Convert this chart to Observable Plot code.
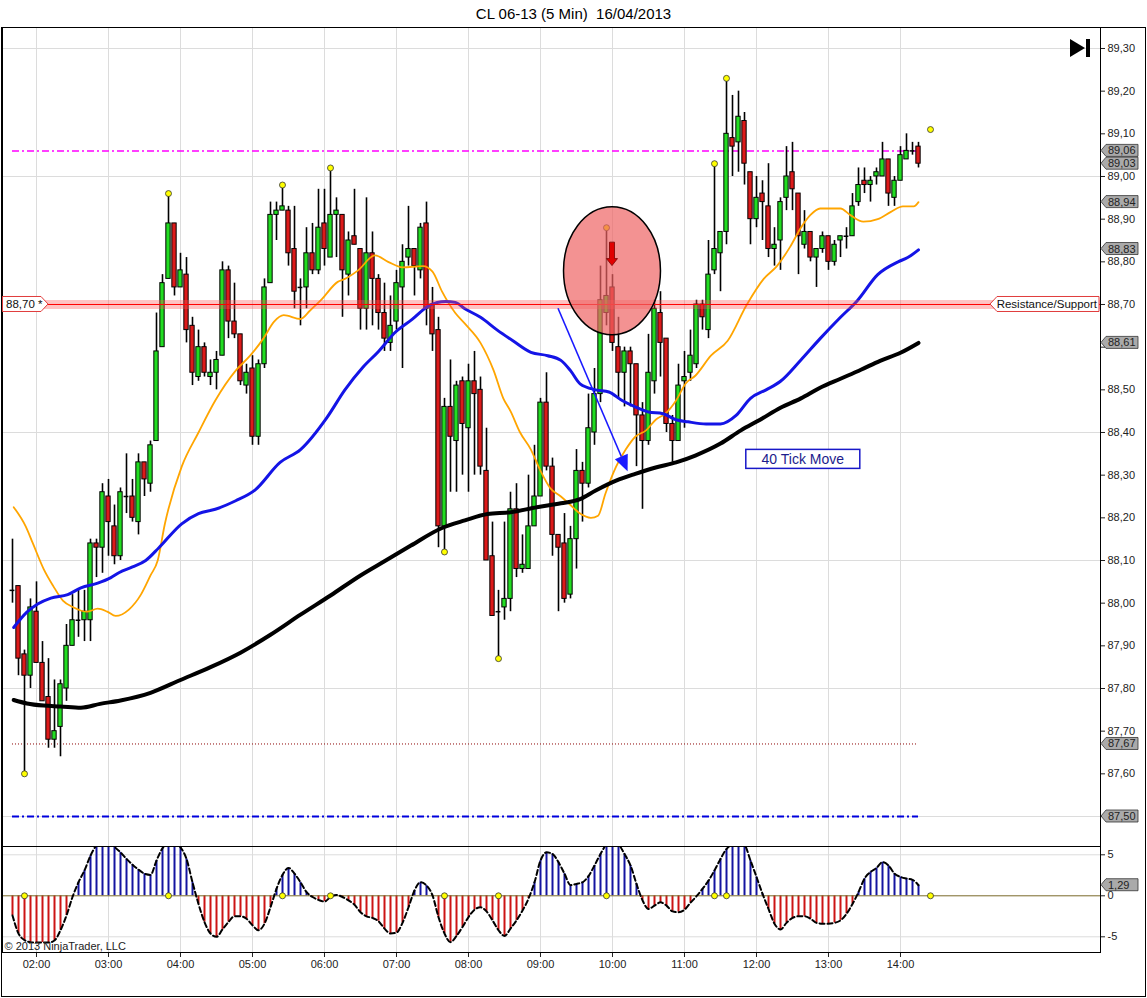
<!DOCTYPE html>
<html><head><meta charset="utf-8">
<script src="https://cdn.jsdelivr.net/npm/d3@7"></script>
<script src="https://cdn.jsdelivr.net/npm/@observablehq/plot@0.6"></script>
<style>
html,body{margin:0;padding:0;background:#fff;}
#wrap{position:relative;width:1147px;height:998px;font-family:"Liberation Sans",Arial,sans-serif;overflow:hidden;background:#fff;}
#title{position:absolute;left:0;top:0;width:1147px;height:27px;line-height:27px;text-align:center;font-size:15px;white-space:pre;color:#000;}
#main{position:absolute;left:0;top:27px;}
#osc{position:absolute;left:0;top:846px;}
#frame{position:absolute;left:0;top:0;pointer-events:none;}
</style></head><body>
<div id="wrap"><div id="title">CL 06-13 (5 Min)  16/04/2013</div><div id="main"></div><div id="osc"></div></div>
<script>
// ---------------- DATA ----------------
const firstBar = "01:40";
const barStep = 5; // minutes
const opens = [88.03,88.04,87.88,87.83,87.98,87.86,87.78,87.68,87.71,87.80,
87.90,87.96,87.96,87.96,88.14,88.13,88.25,88.18,88.11,88.25,
88.25,88.19,88.33,88.28,88.38,88.60,88.76,88.89,88.74,88.77,
88.65,88.53,88.60,88.53,88.54,88.58,88.78,88.66,88.63,88.51,
88.55,88.39,88.56,88.75,88.91,88.92,88.92,88.83,88.74,88.74,
88.82,88.78,88.89,88.81,88.91,88.91,88.77,88.86,88.83,88.69,
88.82,88.76,88.68,88.61,88.66,88.74,88.81,88.83,88.78,88.89,
88.70,88.64,88.18,88.46,88.38,88.52,88.41,88.52,88.50,88.31,
88.11,87.98,87.99,88.01,88.22,88.08,88.08,88.18,88.25,88.47,
88.32,88.16,88.14,88.02,88.15,88.31,88.28,88.40,88.49,88.68,
88.74,88.60,88.54,88.59,88.56,88.44,88.38,88.52,88.68,88.62,
88.42,88.38,88.52,88.54,88.56,88.70,88.64,88.78,88.82,88.87,
89.09,89.08,89.13,89.01,88.90,88.96,88.93,88.83,88.85,88.95,
89.01,88.96,88.84,88.87,88.81,88.83,88.86,88.80,88.85,88.86,
88.86,88.94,88.99,88.98,89.00,89.00,89.04,88.95,88.99,89.04,
89.06,89.07];
const highs = [88.15,88.04,87.89,88.01,88.05,87.91,87.87,87.82,87.82,87.95,
88.02,88.03,88.03,88.15,88.15,88.28,88.29,88.23,88.27,88.35,
88.29,88.35,88.33,88.38,88.68,88.77,88.96,88.89,88.82,88.81,
88.67,88.64,88.61,88.57,88.59,88.80,88.79,88.75,88.63,88.56,
88.58,88.57,88.76,88.94,88.94,88.98,88.93,88.93,88.76,88.88,
88.89,88.97,88.97,89.02,88.95,88.91,88.87,88.97,88.83,88.95,
88.87,88.77,88.75,88.72,88.78,88.84,88.93,88.83,88.89,88.94,
88.74,88.67,88.48,88.57,88.52,88.53,88.56,88.59,88.53,88.41,
88.19,88.03,88.19,88.26,88.28,88.16,88.30,88.37,88.48,88.54,
88.34,88.16,88.21,88.18,88.36,88.33,88.49,88.55,88.79,88.88,
88.77,88.67,88.60,88.60,88.56,88.47,88.63,88.71,88.73,88.62,
88.44,88.56,88.59,88.64,88.71,88.71,88.85,89.03,88.87,89.23,
89.19,89.20,89.15,89.01,89.00,88.99,89.03,88.88,88.95,89.07,
89.08,88.96,88.92,88.87,88.83,88.87,88.86,88.85,88.86,88.88,
88.96,89.02,89.02,89.00,89.02,89.08,89.04,89.00,89.07,89.10,
89.08,89.08];
const lows = [88.00,87.83,87.60,87.80,87.86,87.77,87.66,87.66,87.64,87.77,
87.90,87.92,87.91,87.91,88.06,88.07,88.11,88.09,88.10,88.21,
88.19,88.16,88.25,88.26,88.38,88.60,88.76,88.72,88.74,88.61,
88.51,88.52,88.53,88.51,88.50,88.58,88.62,88.62,88.51,88.49,
88.37,88.37,88.55,88.75,88.85,88.92,88.79,88.69,88.65,88.69,
88.77,88.77,88.79,88.81,88.81,88.67,88.72,88.84,88.64,88.64,
88.65,88.64,88.59,88.59,88.64,88.55,88.79,88.72,88.76,88.65,
88.59,88.13,88.12,88.26,88.26,88.30,88.26,88.30,88.30,88.10,
87.97,87.87,87.96,87.98,88.06,88.07,88.08,88.18,88.25,88.31,
88.11,87.98,88.00,88.01,88.08,88.19,88.27,88.37,88.47,88.65,
88.59,88.48,88.46,88.46,88.32,88.22,88.37,88.49,88.53,88.40,
88.33,88.38,88.41,88.52,88.55,88.64,88.62,88.77,88.73,88.84,
89.00,89.01,88.98,88.84,88.88,88.85,88.81,88.79,88.78,88.92,
88.92,88.77,88.83,88.80,88.74,88.82,88.78,88.79,88.81,88.83,
88.86,88.93,88.96,88.94,88.98,89.00,88.93,88.93,88.99,89.04,
89.05,89.02];
const closes = [88.03,87.87,87.83,87.99,87.86,87.77,87.68,87.70,87.81,87.90,
87.96,87.96,87.98,88.14,88.13,88.26,88.19,88.11,88.26,88.25,
88.20,88.33,88.29,88.37,88.59,88.75,88.89,88.74,88.78,88.64,
88.54,88.60,88.54,88.54,88.57,88.78,88.66,88.63,88.52,88.54,
88.39,88.56,88.74,88.91,88.92,88.93,88.82,88.73,88.74,88.82,
88.78,88.88,88.83,88.91,88.92,88.78,88.85,88.84,88.69,88.82,
88.76,88.68,88.62,88.65,88.75,88.80,88.83,88.79,88.88,88.69,
88.63,88.18,88.46,88.39,88.51,88.42,88.52,88.49,88.32,88.10,
87.97,87.98,88.01,88.22,88.08,88.09,88.18,88.25,88.47,88.32,
88.16,88.13,88.01,88.15,88.31,88.28,88.41,88.49,88.71,88.72,
88.61,88.54,88.59,88.56,88.44,88.38,88.54,88.69,88.61,88.42,
88.38,88.51,88.53,88.58,88.70,88.67,88.77,88.83,88.87,89.10,
89.07,89.14,89.03,88.90,88.95,88.94,88.83,88.84,88.94,89.00,
88.97,88.86,88.87,88.81,88.83,88.86,88.80,88.84,88.86,88.86,
88.93,88.98,88.98,88.99,89.01,89.04,88.96,88.99,89.05,89.06,
89.06,89.03];
const oscValues = [-2.4,-4.6,-5.4,-5.65,-5.7,-5.7,-5.7,-5.45,-4.2,-2.4,
-0.15,1.65,3.1,4.9,6.2,7.0,7.2,6.0,5.3,4.5,
3.8,3.2,2.7,2.55,4.3,5.8,6.5,6.5,5.9,4.5,
1.65,-1.0,-3.2,-4.6,-5.0,-4.1,-3.2,-2.5,-2.5,-2.8,
-3.6,-4.2,-3.4,-1.4,0.85,2.55,3.4,2.7,1.65,0.45,
-0.15,-0.5,-0.7,-0.15,0.1,-0.15,-0.55,-1.1,-2.0,-2.5,
-2.7,-3.1,-4.0,-4.6,-4.5,-3.3,-1.4,0.65,1.65,1.25,
0.05,-2.6,-4.6,-5.65,-4.9,-3.8,-2.6,-1.7,-1.4,-1.9,
-3.0,-4.2,-4.9,-4.0,-3.0,-1.8,-0.35,1.65,4.3,5.3,
5.1,4.1,2.7,1.3,1.45,1.65,2.4,3.7,5.1,6.3,
6.8,6.3,5.1,3.7,1.45,-0.55,-1.6,-1.2,-0.8,-1.2,
-1.9,-2.0,-1.7,-0.85,-0.05,0.85,1.85,3.1,4.5,5.7,
6.3,6.5,6.2,4.3,2.3,0.25,-1.6,-3.4,-4.1,-3.3,
-2.7,-2.5,-2.5,-2.8,-3.3,-3.4,-3.4,-3.3,-3.0,-2.2,
-1.0,0.45,2.1,2.9,3.4,4.1,3.7,2.7,2.3,2.1,
1.95,1.29];
const orangeTimes = ["01:41","01:51","01:57","02:06","02:14","02:22","02:31","02:42","02:51","02:59","03:06","03:17","03:27","03:35","03:41","03:47","04:01","04:15","04:29","04:46","04:58","05:09","05:18","05:26","05:40","05:48","05:57","06:11","06:17","06:28","06:42","06:53","07:05","07:22","07:30","07:38","07:49","07:57","08:10","08:21","08:29","08:35","08:43","08:52","09:00","09:08","09:17","09:25","09:33","09:42","09:48","09:54","10:03","10:11","10:19","10:28","10:36","10:44","10:53","11:01","11:09","11:22","11:36","11:52","12:06","12:17","12:28","12:37","12:45","12:53","13:10","13:18","13:29","13:41","13:52","14:02","14:11","14:15"];
const orangeValues = [88.225,88.18,88.14,88.08,88.04,88.006,87.99,87.98,87.987,87.98,87.97,87.985,88.02,88.065,88.10,88.186,88.32,88.40,88.475,88.545,88.58,88.62,88.66,88.675,88.666,88.686,88.71,88.753,88.76,88.78,88.815,88.80,88.787,88.79,88.777,88.73,88.68,88.655,88.61,88.545,88.48,88.45,88.40,88.36,88.31,88.27,88.25,88.23,88.21,88.20,88.205,88.256,88.32,88.36,88.39,88.405,88.43,88.444,88.475,88.515,88.533,88.58,88.615,88.70,88.76,88.79,88.835,88.88,88.91,88.925,88.925,88.91,88.894,88.90,88.917,88.93,88.93,88.94];
const blueTimes = ["01:41","01:52","02:01","02:12","02:26","02:37","02:51","03:02","03:09","03:20","03:31","03:42","04:01","04:15","04:29","04:46","05:02","05:23","05:40","06:02","06:17","06:32","06:45","06:59","07:13","07:27","07:41","07:49","07:57","08:10","08:24","08:37","08:52","09:06","09:17","09:25","09:33","09:46","09:57","10:08","10:19","10:30","10:42","10:53","11:03","11:18","11:30","11:43","11:55","12:08","12:20","12:37","12:53","13:10","13:24","13:41","13:58","14:06","14:15"];
const blueValues = [87.943,87.979,87.998,88.012,88.02,88.036,88.047,88.06,88.072,88.085,88.10,88.13,88.186,88.21,88.22,88.24,88.265,88.33,88.36,88.435,88.50,88.553,88.59,88.635,88.665,88.697,88.707,88.705,88.69,88.67,88.64,88.615,88.588,88.58,88.569,88.545,88.514,88.50,88.495,88.475,88.46,88.448,88.444,88.43,88.425,88.42,88.42,88.44,88.48,88.50,88.52,88.57,88.62,88.67,88.709,88.77,88.80,88.81,88.828];
const blackTimes = ["01:41","01:52","02:06","02:20","02:37","02:53","03:10","03:35","04:00","04:25","04:50","05:15","05:40","06:05","06:30","06:51","07:12","07:37","07:57","08:16","08:35","08:57","09:17","09:33","09:46","10:03","10:19","10:36","10:53","11:09","11:30","11:47","12:03","12:20","12:37","12:53","13:10","13:27","13:43","14:00","14:15"];
const blackValues = [87.773,87.765,87.76,87.758,87.755,87.764,87.772,87.79,87.82,87.85,87.884,87.926,87.973,88.018,88.065,88.10,88.135,88.175,88.194,88.209,88.213,88.225,88.234,88.244,88.264,88.287,88.303,88.318,88.33,88.346,88.374,88.405,88.43,88.458,88.48,88.505,88.526,88.547,88.568,88.587,88.61];
const swingTimes = ["01:50","03:50","05:25","06:05","07:40","08:25","09:55","11:25","11:35","14:25"];
const swingPrices = [87.60,88.96,88.98,89.02,88.12,87.87,88.88,89.03,89.23,89.11];
const hourTicks = ["02:00","03:00","04:00","05:00","06:00","07:00","08:00","09:00","10:00","11:00","12:00","13:00","14:00"];
const priceTicks = [87.5,87.6,87.7,87.8,87.9,88.0,88.1,88.2,88.3,88.4,88.5,88.6,88.7,88.8,88.9,89.0,89.1,89.2,89.3];
const priceGrid = [87.5,87.8,88.1,88.4,88.7,89.0,89.3];
const oscTicks = [-5,0,5];
const oscGrid = [-5,5];
const levelMagenta = 89.06, levelResistance = 88.70, levelDotted = 87.67, levelBlue = 87.50;
const priceMarkers = [89.06,89.03,88.94,88.83,88.61,87.67,87.50];
const oscMarker = 1.29;
const circleNote = {time: "10:00", price: 88.778, halfMinutes: 40.4, halfPrice: 0.15};
const sellArrow = {time: "10:00", from: 88.845, to: 88.79};
const moveArrow = {fromTime: "09:15", fromPrice: 88.69, toTime: "10:13", toPrice: 88.308};
const moveNote = {time: "12:39", price: 88.337, text: "40 Tick Move"};

// ---------------- HELPERS ----------------
const parseT = s => { const [h, m] = s.split(":").map(Number); return h * 60 + m; };
const fmtHour = m => String(Math.floor(m / 60)).padStart(2, "0") + ":00";
const comma = d => d.toFixed(2).replace(".", ",");
// tick labels hidden behind a price marker box (as in the reference)
const hiddenTick = d => priceMarkers.some(m => Math.abs(m - d) < 0.015);
const FONT = '"Liberation Sans", Arial, sans-serif';
const GREEN = "#22dd22", RED = "#dd1a1a", GRID = "#dcdcdc";

const t0 = parseT(firstBar);
const bars = opens.map((o, i) => ({t: t0 + i * barStep, open: o, high: highs[i], low: lows[i], close: closes[i]}));
const bodies = bars.filter(d => Math.abs(d.close - d.open) > 0.004);
const dojis = bars.filter(d => Math.abs(d.close - d.open) <= 0.004);
const pts = (ts, vs) => ts.map((s, i) => ({t: parseT(s), v: vs[i]}));
const orange = pts(orangeTimes, orangeValues);
const blue = pts(blueTimes, blueValues);
const black = pts(blackTimes, blackValues);
const swings = pts(swingTimes, swingPrices);
const osc = oscValues.map((v, i) => ({t: t0 + i * barStep, v}));
const hourT = hourTicks.map(parseT);
const tFirst = bars[0].t, tLast = bars[bars.length - 1].t;

const xDomain = [91.667, 1006.667];
const W = 1147;

// ---------------- MAIN PANEL ----------------
const main = Plot.plot({
  width: W, height: 819,
  marginLeft: 2, marginRight: 47, marginTop: 0, marginBottom: 0,
  x: {type: "linear", domain: xDomain, axis: null},
  y: {type: "linear", domain: [87.4297, 89.3492], axis: null},
  style: {fontFamily: FONT, fontSize: "11px", color: "#222", background: "white", overflow: "visible"},
  marks: [
    Plot.gridX(hourT, {stroke: GRID, strokeOpacity: 1}),
    Plot.gridY(priceGrid, {stroke: GRID, strokeOpacity: 1}),
    Plot.ruleY([levelMagenta], {x1: tFirst, x2: tLast, stroke: "#ff00ff", strokeWidth: 1.5, strokeDasharray: "7,3,2,3"}),
    Plot.ruleY([levelDotted], {x1: tFirst, x2: tLast, stroke: "#8b0000", strokeWidth: 1, strokeDasharray: "1,2"}),
    Plot.ruleY([levelBlue], {x1: tFirst, x2: tLast, stroke: "#0000dd", strokeWidth: 2, strokeDasharray: "7,3,2,3"}),
    Plot.ruleX(bars, {x: "t", y1: "low", y2: "high", stroke: "black", strokeWidth: 1.6}),
    Plot.rect(bodies, {x1: d => d.t - 1.8, x2: d => d.t + 1.8, y1: "open", y2: "close",
      fill: d => d.close > d.open ? GREEN : RED, stroke: "black", strokeWidth: 1}),
    Plot.ruleY(dojis, {x1: d => d.t - 2, x2: d => d.t + 2, y: "open", stroke: "black", strokeWidth: 1.5}),
    Plot.line(orange, {x: "t", y: "v", stroke: "#ffa500", strokeWidth: 1.8, curve: "monotone-x"}),
    Plot.line(blue, {x: "t", y: "v", stroke: "#1414e6", strokeWidth: 3, curve: "monotone-x"}),
    Plot.line(black, {x: "t", y: "v", stroke: "black", strokeWidth: 4, curve: "monotone-x"}),
    Plot.ruleY([levelResistance], {stroke: "#ff5050", strokeOpacity: 0.35, strokeWidth: 9}),
    Plot.ruleY([levelResistance], {stroke: "#ff0000", strokeWidth: 1}),
    Plot.dot(swings, {x: "t", y: "v", r: 3, fill: "#ffff00", stroke: "#333", strokeWidth: 0.8}),
    Plot.axisY(priceTicks, {anchor: "right", label: null, tickSize: 4, tickPadding: 3,
      tickFormat: d => hiddenTick(d) ? "" : comma(d), fontSize: 11, fill: "#222"}),
    Plot.frame({stroke: "black"})
  ]
});
document.getElementById("main").appendChild(main);

function lin(plot, name) { const s = plot.scale(name); return d3.scaleLinear().domain(s.domain).range(s.range); }
const X = lin(main, "x"), Y = lin(main, "y");
const svg = d3.select(main);
const right = X.range()[1];

// circle annotation
{
  const cx = X(parseT(circleNote.time)), cy = Y(circleNote.price);
  svg.append("ellipse").attr("cx", cx).attr("cy", cy)
    .attr("rx", X(parseT(circleNote.time) + circleNote.halfMinutes) - cx)
    .attr("ry", Y(circleNote.price - circleNote.halfPrice) - cy)
    .attr("fill", "rgb(238,100,100)").attr("fill-opacity", 0.7)
    .attr("stroke", "black").attr("stroke-width", 1.5);
}
// sell arrow
{
  const ax = X(parseT(sellArrow.time)), ay = Y(sellArrow.from), ty = Y(sellArrow.to), hl = 7;
  const p = [[ax-2.5, ay],[ax+2.5, ay],[ax+2.5, ty-hl],[ax+5.5, ty-hl],[ax, ty],[ax-5.5, ty-hl],[ax-2.5, ty-hl]];
  svg.append("polygon").attr("points", p.map(q => q.join(",")).join(" "))
    .attr("fill", "#e00000").attr("stroke", "#700").attr("stroke-width", 0.8);
}
// move arrow
{
  const x0 = X(parseT(moveArrow.fromTime)), y0 = Y(moveArrow.fromPrice);
  const x1 = X(parseT(moveArrow.toTime)), y1 = Y(moveArrow.toPrice);
  const L = Math.hypot(x1 - x0, y1 - y0), ux = (x1 - x0) / L, uy = (y1 - y0) / L;
  const bx = x1 - ux * 16, by = y1 - uy * 16, nx = -uy, ny = ux;
  svg.append("line").attr("x1", x0).attr("y1", y0).attr("x2", bx).attr("y2", by)
    .attr("stroke", "#1a1aff").attr("stroke-width", 1.6);
  svg.append("polygon").attr("points", [[x1, y1],[bx + nx*7, by + ny*7],[bx - nx*7, by - ny*7]].map(q => q.join(",")).join(" "))
    .attr("fill", "#1a1aff");
}
// 40 tick move box
{
  const cx = X(parseT(moveNote.time)), cy = Y(moveNote.price);
  svg.append("rect").attr("x", cx - 57).attr("y", cy - 9.5).attr("width", 114).attr("height", 19)
    .attr("fill", "white").attr("stroke", "#1818c8").attr("stroke-width", 1.5);
  svg.append("text").attr("x", cx).attr("y", cy + 5).attr("text-anchor", "middle")
    .attr("font-size", 14).attr("fill", "#1c1c8c").attr("font-family", FONT).text(moveNote.text);
}
// price marker boxes
function marker(sel, x, y, label) {
  sel.append("polygon").attr("points", [[x, y],[x+5, y-6],[x+37, y-6],[x+37, y+6],[x+5, y+6]].map(q => q.join(",")).join(" "))
    .attr("fill", "#aaaaaa").attr("stroke", "#333").attr("stroke-width", 0.8);
  sel.append("text").attr("x", x + 7).attr("y", y + 4).attr("text-anchor", "start").attr("font-size", 11).attr("fill", "#222")
    .attr("font-family", FONT).text(label);
}
priceMarkers.forEach(v => marker(svg, right + 1, Y(v), comma(v)));
// resistance labels
{
  const y = Y(levelResistance);
  svg.append("polygon").attr("points", [[990, y],[997, y-7.5],[right-1, y-7.5],[right-1, y+7.5],[997, y+7.5]].map(q => q.join(",")).join(" "))
    .attr("fill", "white").attr("stroke", "#e03c3c").attr("stroke-width", 1);
  svg.append("text").attr("x", right - 3).attr("y", y + 4).attr("text-anchor", "end").attr("font-size", 11.5)
    .attr("font-family", FONT).attr("fill", "#111").text("Resistance/Support");
  svg.append("polygon").attr("points", [[2.5, y-7.5],[41, y-7.5],[48, y],[41, y+7.5],[2.5, y+7.5]].map(q => q.join(",")).join(" "))
    .attr("fill", "white").attr("stroke", "#e03c3c").attr("stroke-width", 1);
  svg.append("text").attr("x", 6).attr("y", y + 4).attr("text-anchor", "start").attr("font-size", 11.5)
    .attr("font-family", FONT).attr("fill", "#111").text(comma(levelResistance) + " *");
}
// go-to-end icon
svg.append("polygon").attr("points", "1070,12 1070,30 1085,21").attr("fill", "black");
svg.append("rect").attr("x", 1086).attr("y", 12).attr("width", 4).attr("height", 18).attr("fill", "black");

// ---------------- OSCILLATOR PANEL ----------------
const low = Plot.plot({
  width: W, height: 152,
  marginLeft: 2, marginRight: 47, marginTop: 0, marginBottom: 46,
  x: {type: "linear", domain: xDomain, axis: null},
  y: {type: "linear", domain: [-6.915, 6.012], axis: null},
  style: {fontFamily: FONT, fontSize: "11px", color: "#222", background: "white", overflow: "visible"},
  marks: [
    Plot.gridX(hourT, {stroke: GRID, strokeOpacity: 1}),
    Plot.gridY(oscGrid, {stroke: GRID, strokeOpacity: 1}),
    Plot.ruleX(osc, {x: "t", y1: 0, y2: "v", stroke: d => d.v >= 0 ? "#1414a0" : "#cc1414", strokeWidth: 2, clip: true}),
    Plot.ruleY([0], {stroke: "#7a6a2a", strokeWidth: 1}),
    Plot.line(osc, {x: "t", y: "v", stroke: "black", strokeWidth: 2, strokeDasharray: "5,3", curve: "monotone-x", clip: true}),
    Plot.dot(swingTimes, {x: d => parseT(d), y: 0, r: 3, fill: "#ffff00", stroke: "#333", strokeWidth: 0.8}),
    Plot.axisY(oscTicks, {anchor: "right", label: null, tickSize: 4, tickPadding: 3, tickFormat: d => d < 0 ? "-" + Math.abs(d) : String(d), fontSize: 11, fill: "#222"}),
    Plot.axisX(hourT, {anchor: "bottom", label: null, tickSize: 5, tickPadding: 3, tickFormat: fmtHour, fontSize: 11, fill: "#222"}),
    Plot.text(["© 2013 NinjaTrader, LLC"], {frameAnchor: "bottom-left", dx: 2, dy: -3, fontSize: 11, fill: "#222", textAnchor: "start"}),
    Plot.frame({stroke: "black"})
  ]
});
document.getElementById("osc").appendChild(low);
{
  const Y2 = lin(low, "y");
  marker(d3.select(low), right + 1, Y2(oscMarker), oscMarker.toFixed(2).replace(".", ","));
}

// outer border
d3.select("#wrap").append("svg").attr("id", "frame").attr("width", W).attr("height", 998)
  .append("rect").attr("x", 1.5).attr("y", 27.5).attr("width", 1144).attr("height", 969)
  .attr("fill", "none").attr("stroke", "black");
</script></body></html>
